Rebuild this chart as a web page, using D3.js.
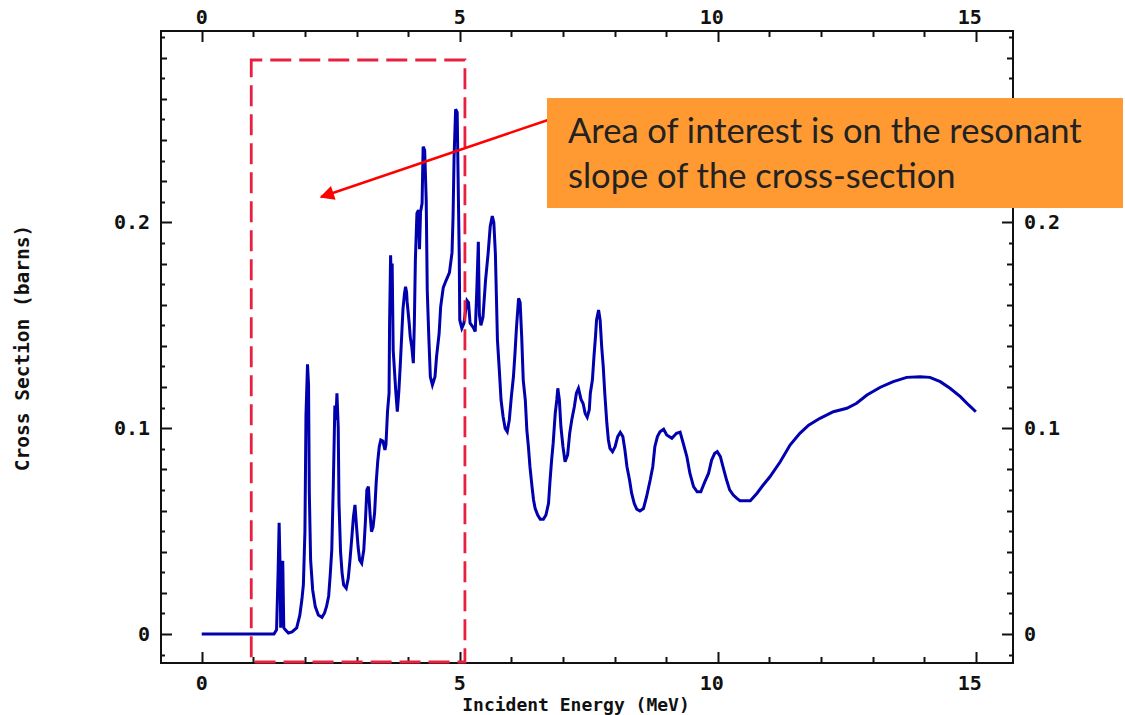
<!DOCTYPE html>
<html>
<head>
<meta charset="utf-8">
<script src="https://cdn.jsdelivr.net/npm/d3@7"></script>
<style>
  html, body { margin: 0; padding: 0; background: #fff; }
  svg { display: block; }
  .tick-label { font-family: "DejaVu Sans Mono", monospace; font-weight: bold; font-size: 20px; fill: #111; }
  .axis-title { font-family: "DejaVu Sans Mono", monospace; font-weight: bold; fill: #111; }
  .callout { font-family: Lato, "Open Sans", sans-serif; fill: #222; }
</style>
</head>
<body>
<svg id="chart" width="1125" height="715"></svg>
<script>
// ---- Data ----
const energy = [0.00,1.40,1.45,1.48,1.50,1.52,1.53,1.55,1.57,1.59,1.62,1.68,1.75,1.84,1.90,1.94,1.97,2.00,2.02,2.05,2.07,2.085,2.11,2.15,2.20,2.26,2.33,2.38,2.42,2.46,2.49,2.52,2.55,2.58,2.60,2.62,2.645,2.66,2.69,2.72,2.75,2.80,2.84,2.87,2.91,2.94,2.97,3.00,3.03,3.06,3.10,3.14,3.17,3.20,3.23,3.26,3.29,3.32,3.35,3.38,3.41,3.44,3.47,3.51,3.55,3.57,3.60,3.63,3.64,3.66,3.68,3.69,3.71,3.76,3.79,3.82,3.85,3.88,3.90,3.93,3.95,3.97,3.98,4.02,4.04,4.07,4.10,4.12,4.14,4.17,4.20,4.22,4.24,4.27,4.29,4.32,4.35,4.37,4.40,4.43,4.47,4.52,4.55,4.60,4.63,4.68,4.73,4.80,4.85,4.87,4.89,4.92,4.95,4.97,4.99,5.00,5.04,5.08,5.14,5.17,5.20,5.26,5.30,5.33,5.36,5.38,5.41,5.45,5.50,5.55,5.59,5.63,5.66,5.69,5.71,5.73,5.77,5.80,5.84,5.88,5.92,5.96,6.00,6.04,6.07,6.10,6.14,6.17,6.20,6.23,6.27,6.30,6.33,6.36,6.40,6.43,6.46,6.51,6.56,6.62,6.67,6.72,6.75,6.78,6.81,6.85,6.88,6.90,6.93,6.96,7.00,7.04,7.09,7.13,7.17,7.22,7.26,7.30,7.35,7.39,7.43,7.47,7.51,7.53,7.57,7.60,7.63,7.65,7.69,7.72,7.75,7.78,7.81,7.85,7.88,7.91,7.96,8.01,8.06,8.11,8.16,8.20,8.24,8.29,8.33,8.38,8.43,8.49,8.56,8.62,8.69,8.74,8.78,8.83,8.88,8.95,9.01,9.11,9.20,9.27,9.33,9.40,9.46,9.53,9.60,9.67,9.75,9.82,9.88,9.94,9.99,10.05,10.10,10.17,10.23,10.30,10.37,10.43,10.63,10.76,10.88,11.01,11.21,11.40,11.59,11.76,11.98,12.24,12.50,12.69,12.89,13.15,13.40,13.66,13.92,14.11,14.31,14.50,14.70,14.86,15.00];
const crossSection = [0,0,0.002,0.030,0.054,0.030,0.003,0.034,0.0355,0.003,0.002,0.0005,0.001,0.003,0.009,0.0165,0.024,0.050,0.106,0.131,0.121,0.0685,0.036,0.0214,0.0133,0.0092,0.0081,0.0102,0.0135,0.0185,0.0287,0.0408,0.0729,0.111,0.104,0.117,0.1007,0.0636,0.040,0.0296,0.0238,0.0222,0.0272,0.0351,0.0473,0.057,0.0627,0.0521,0.0424,0.036,0.0344,0.0408,0.0539,0.070,0.0716,0.0588,0.0497,0.052,0.0588,0.0733,0.0837,0.091,0.0943,0.0938,0.0894,0.092,0.108,0.117,0.151,0.184,0.165,0.180,0.138,0.118,0.108,0.118,0.132,0.1477,0.158,0.1656,0.1687,0.166,0.1615,0.151,0.1445,0.1396,0.1316,0.151,0.1817,0.2044,0.206,0.187,0.205,0.2093,0.2368,0.235,0.2109,0.167,0.1445,0.125,0.121,0.125,0.1347,0.146,0.159,0.1683,0.1715,0.1756,0.1853,0.2027,0.2319,0.255,0.2535,0.218,0.1834,0.1526,0.1486,0.151,0.162,0.161,0.151,0.149,0.147,0.167,0.1906,0.155,0.150,0.154,0.172,0.185,0.198,0.2031,0.200,0.185,0.164,0.1429,0.1268,0.1137,0.1056,0.0999,0.0983,0.104,0.1153,0.125,0.1364,0.1493,0.1631,0.161,0.1445,0.1234,0.1137,0.0991,0.091,0.0813,0.0716,0.0651,0.0611,0.0578,0.0557,0.0557,0.0578,0.0635,0.0748,0.0845,0.0927,0.1072,0.1137,0.1194,0.1137,0.1007,0.091,0.0837,0.0870,0.0975,0.104,0.1104,0.117,0.1194,0.114,0.112,0.1072,0.1053,0.109,0.117,0.1234,0.1347,0.1445,0.1525,0.1574,0.1525,0.1396,0.130,0.117,0.1024,0.0943,0.0902,0.0886,0.0910,0.0959,0.098,0.0959,0.0894,0.0813,0.0748,0.0684,0.0635,0.0606,0.0598,0.0610,0.0667,0.0748,0.0813,0.091,0.0959,0.0983,0.0995,0.0967,0.0951,0.0975,0.0981,0.0927,0.0862,0.078,0.0716,0.0691,0.0691,0.074,0.0780,0.0845,0.0878,0.0886,0.0862,0.0813,0.0748,0.070,0.0675,0.0659,0.0648,0.0648,0.0684,0.0724,0.0764,0.0837,0.0918,0.0975,0.1015,0.1048,0.108,0.1097,0.1121,0.1161,0.1199,0.1226,0.1247,0.125,0.1247,0.1226,0.1194,0.1153,0.1113,0.108];

const xTickValues = [0, 5, 10, 15];
const xTickLabels = ["0", "5", "10", "15"];
const yTickValues = [0, 0.1, 0.2];
const yTickLabels = ["0", "0.1", "0.2"];
const xTitle = "Incident Energy (MeV)";
const yTitle = "Cross Section (barns)";
const calloutLines = ["Area of interest is on the resonant", "slope of the cross-section"];
const regionOfInterest = [0.96, 5.10]; // MeV range highlighted by dashed box

// ---- Layout ----
const svg = d3.select("#chart");
const L = 161, R = 1013, T = 31, B = 663;
const x = d3.scaleLinear().domain([-0.789, 15.72]).range([L, R]);
const y = d3.scaleLinear().domain([-0.01409, 0.2930]).range([B, T]);

// Curve
const pts = energy.map((e, i) => [e, crossSection[i]]);
const line = d3.line().x(d => x(d[0])).y(d => y(d[1]));
svg.append("path").attr("d", line(pts))
  .attr("fill", "none").attr("stroke", "#0000AE").attr("stroke-width", 3)
  .attr("stroke-linejoin", "miter");

// Frame
svg.append("rect").attr("x", L).attr("y", T).attr("width", R - L).attr("height", B - T)
  .attr("fill", "none").attr("stroke", "#111").attr("stroke-width", 2);

// X ticks (inward, top and bottom)
const tickG = svg.append("g").attr("stroke", "#111").attr("stroke-width", 2);
d3.range(0, 16, 1).forEach(v => {
  const len = v % 5 === 0 ? 11 : 6;
  const px = Math.round(x(v)) + 0.5;
  tickG.append("line").attr("x1", px).attr("x2", px).attr("y1", B).attr("y2", B - len);
  tickG.append("line").attr("x1", px).attr("x2", px).attr("y1", T).attr("y2", T + len);
});
// Y ticks (inward, left and right)
d3.range(-1, 30, 1).forEach(k => {
  const v = k / 100;
  if (v < y.domain()[0] || v > y.domain()[1]) return;
  const len = k % 10 === 0 ? 11 : (k % 2 === 0 ? 6 : 4);
  const py = Math.round(y(v)) + 0.5;
  tickG.append("line").attr("x1", L).attr("x2", L + len).attr("y1", py).attr("y2", py);
  tickG.append("line").attr("x1", R).attr("x2", R - len).attr("y1", py).attr("y2", py);
});

// X tick labels (last digit centred on tick)
const charW = 20 * 0.602;
xTickValues.forEach((v, i) => {
  svg.append("text").attr("class", "tick-label").attr("text-anchor", "end")
    .attr("x", x(v) + charW / 2).attr("y", 690).text(xTickLabels[i]);
  svg.append("text").attr("class", "tick-label").attr("text-anchor", "end")
    .attr("x", x(v) + charW / 2).attr("y", 24).text(xTickLabels[i]);
});
// Y tick labels
yTickValues.forEach((v, i) => {
  svg.append("text").attr("class", "tick-label").attr("text-anchor", "end")
    .attr("x", 150).attr("y", y(v) + 7).text(yTickLabels[i]);
  svg.append("text").attr("class", "tick-label").attr("text-anchor", "start")
    .attr("x", 1024).attr("y", y(v) + 7).text(yTickLabels[i]);
});

// Axis titles
svg.append("text").attr("class", "axis-title").attr("text-anchor", "middle")
  .style("font-size", "18px")
  .attr("x", 576).attr("y", 711).text(xTitle);
svg.append("text").attr("class", "axis-title").attr("text-anchor", "middle")
  .style("font-size", "19.5px")
  .attr("transform", "translate(29,348) rotate(-90)").text(yTitle);

// Dashed region of interest
svg.append("rect")
  .attr("x", x(regionOfInterest[0])).attr("y", 60)
  .attr("width", x(regionOfInterest[1]) - x(regionOfInterest[0])).attr("height", 662 - 60)
  .attr("fill", "none").attr("stroke", "#E8203F").attr("stroke-width", 2.8)
  .attr("stroke-dasharray", "21,8").attr("stroke-dashoffset", 10);

// Arrow
const defs = svg.append("defs");
defs.append("marker").attr("id", "arrowhead").attr("viewBox", "0 0 10 10")
  .attr("refX", 9).attr("refY", 5).attr("markerWidth", 7).attr("markerHeight", 6)
  .attr("markerUnits", "strokeWidth").attr("orient", "auto")
  .append("path").attr("d", "M0,0 L10,5 L0,10 Z").attr("fill", "#FF0000");
svg.append("line").attr("x1", 548).attr("y1", 120).attr("x2", 321).attr("y2", 197)
  .attr("stroke", "#FF0000").attr("stroke-width", 2.4).attr("marker-end", "url(#arrowhead)");

// Callout box
svg.append("rect").attr("x", 547).attr("y", 98).attr("width", 576).attr("height", 110)
  .attr("fill", "#FF9A33");
const t1 = svg.append("text").attr("class", "callout").attr("x", 568).attr("y", 143)
  .style("font-size", "32px").text(calloutLines[0]);
// fit first line to measured width
const w1 = t1.node().getComputedTextLength();
const fs = 32 * 514 / w1;
t1.style("font-size", fs + "px");
svg.append("text").attr("class", "callout").attr("x", 568).attr("y", 188)
  .style("font-size", fs + "px").text(calloutLines[1]);
</script>
</body>
</html>
